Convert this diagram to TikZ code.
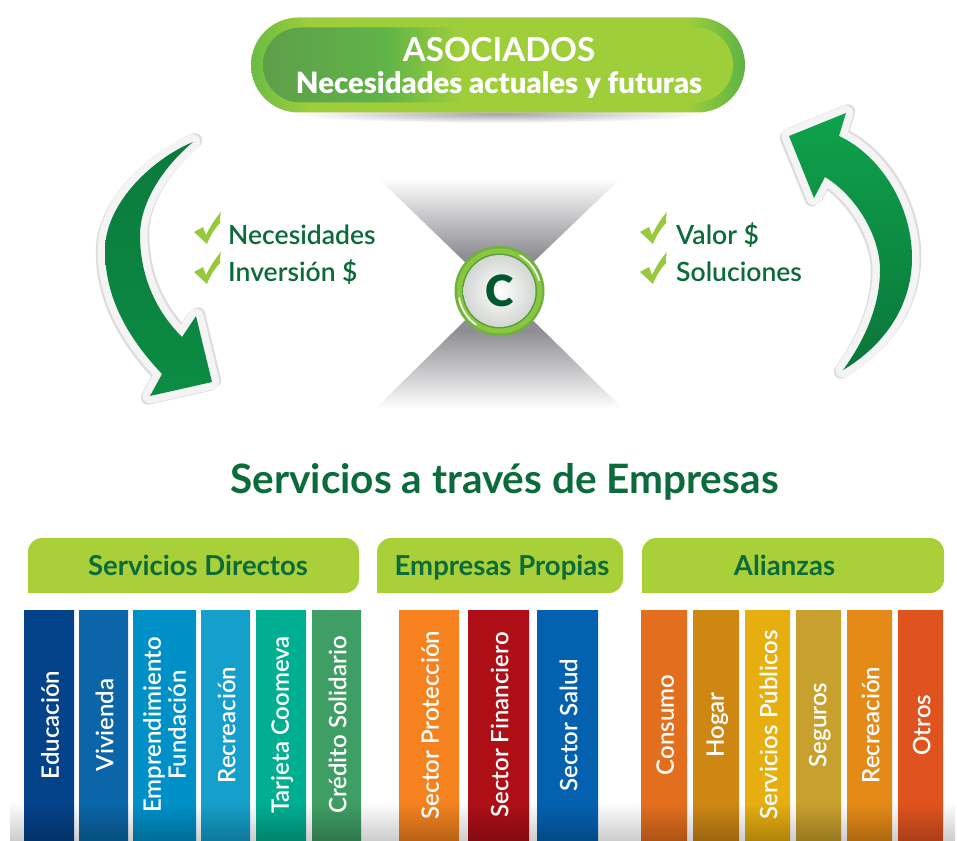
\documentclass[tikz,border=0pt]{standalone}
\usepackage{fontspec}
\usepackage{graphicx}
\setmainfont{Lato}
\newfontfamily\barfont{Lato Semibold}
\newfontfamily\headfont{Lato Bold}
\newfontfamily\heavyfont{Lato Black}
\usetikzlibrary{shapes.misc}
\definecolor{lime}{HTML}{A9D039}
\definecolor{pilllime}{HTML}{9FCE3B}
\definecolor{deepgreen}{HTML}{0B6B3A}
\definecolor{rimwhite}{HTML}{F4F4F4}
\definecolor{rimgrey}{HTML}{DCDCDC}
\definecolor{pillL}{HTML}{6CBB45}
\definecolor{pillR}{HTML}{5DB345}
\definecolor{innerA}{HTML}{5E9F4A}
\definecolor{innerB}{HTML}{5FB447}
\definecolor{arrowDark}{HTML}{0B7A3C}
\definecolor{arrowMid}{HTML}{0FA24B}
\definecolor{arrowLow}{HTML}{0B8C44}
\definecolor{arrowEnd}{HTML}{0A763B}
\definecolor{hourgrey}{HTML}{8E8E94}
\definecolor{ringA}{HTML}{6DB33F}
\definecolor{ringB}{HTML}{8CC63F}
\definecolor{ringC}{HTML}{4FA23A}
\definecolor{ballgrey}{HTML}{D3D6D3}
\definecolor{hubtext}{HTML}{00582F}
\definecolor{floorgrey}{HTML}{CDCDCD}
\definecolor{chkgreen}{HTML}{97C93D}
\definecolor{cEdu}{HTML}{04428A}
\definecolor{cViv}{HTML}{0A66A8}
\definecolor{cEmp}{HTML}{0090C8}
\definecolor{cRec}{HTML}{159FCB}
\definecolor{cTar}{HTML}{00AE92}
\definecolor{cCre}{HTML}{3F9E63}
\definecolor{cPro}{HTML}{F5821F}
\definecolor{cFin}{HTML}{AE0F16}
\definecolor{cSal}{HTML}{0461B0}
\definecolor{cCon}{HTML}{E36F1E}
\definecolor{cHog}{HTML}{CF8714}
\definecolor{cPub}{HTML}{E6AE0F}
\definecolor{cSeg}{HTML}{C8A02D}
\definecolor{cRed}{HTML}{E68A17}
\definecolor{cOtr}{HTML}{E0531F}
\colorlet{barbase}{cEdu}
\pgfdeclarehorizontalshading{outerpill}{100bp}{color(0bp)=(pillL);color(25bp)=(pillL);color(31bp)=(pilllime);color(69bp)=(pilllime);color(75bp)=(pillR);color(100bp)=(pillR)}
\pgfdeclarehorizontalshading{innerpill}{100bp}{color(0bp)=(innerA);color(25bp)=(innerA);color(38bp)=(innerB);color(46bp)=(pilllime);color(100bp)=(pilllime)}
\pgfdeclareverticalshading{hourtop}{100bp}{color(0bp)=(hourgrey);color(42bp)=(hourgrey);color(75bp)=(white);color(100bp)=(white)}
\pgfdeclareverticalshading{hourlow}{100bp}{color(0bp)=(white);color(25bp)=(white);color(57bp)=(hourgrey);color(100bp)=(hourgrey)}
\pgfdeclareverticalshading[barbase]{barshade}{100bp}{color(0bp)=(barbase!76!black);color(25bp)=(barbase!76!black);color(33bp)=(barbase);color(100bp)=(barbase)}
\newcommand{\leftarc}{(193,142) .. controls (150,160) and (105,205) .. (105,250) .. controls (105,300) and (130,340) .. (162,374) -- (150,396) -- (212,382) -- (196,316) -- (182,337) .. controls (155,310) and (140,275) .. (140,235) .. controls (140,205) and (160,170) .. (193,142) -- cycle}
\newcommand{\rightarc}{(789,136) -- (846,113) -- (839,136) .. controls (880,155) and (912,205) .. (912,258) .. controls (912,305) and (885,345) .. (843,370) .. controls (865,340) and (880,305) .. (880,270) .. controls (880,235) and (855,195) .. (825,177) -- (814,198) -- cycle}
\newcommand{\barlabel}[1]{\rotatebox{90}{\rule{0pt}{20pt}#1}}
\tikzset{
  x=1pt,y=-1pt,
  rimshadow/.style={draw=rimgrey,line width=14.5pt,line join=round},
  rim/.style={draw=rimwhite,line width=15pt,line join=round},
  hdrbox/.style={fill=lime},
  hdrtext/.style={text=deepgreen,font=\headfont\fontsize{27.5}{29}\selectfont,inner sep=0pt,anchor=base},
  bodytext/.style={text=deepgreen,font=\barfont\fontsize{26.5}{30}\selectfont,inner sep=0pt,anchor=base west},
  colbar/.style n args={2}{rectangle,inner sep=0pt,minimum height=230pt,minimum width=#1,
    /utils/exec={\colorlet{barbase}{#2}},shading=barshade,text=white,
    font=\barfont\fontsize{24}{26}\selectfont},
  chk/.pic={\fill[chkgreen] (194,232) -- (203,227) -- (206,235) .. controls (210,227) and (214,220) .. (221,212) .. controls (219,222) and (220,224) .. (221,222) .. controls (215,228) and (210,236) .. (207,244) -- cycle;},
}
\begin{document}
\begin{tikzpicture}
\useasboundingbox (0,0) rectangle (957,840);
\fill[white] (0,0) rectangle (957,840);
% pill shadow
\shade[inner color=gray!70,outer color=white] (498,114) ellipse (205 and 9);
% pill
\node (pillout) [rounded rectangle,inner sep=0pt,minimum width=494pt,minimum height=95pt,shading=outerpill] at (498,65) {};
\node (pillin) [rounded rectangle,inner sep=0pt,minimum width=470pt,minimum height=75pt,shading=innerpill] at (498,65) {};
\node (pilltext) [inner sep=0pt,text=white,align=center,font=\fontsize{28}{32}\selectfont] at (499,68)
  {{\headfont\fontsize{33}{32}\selectfont ASOCIADOS}\\{\heavyfont\fontsize{29.3}{32}\selectfont Necesidades actuales y futuras}};
% arrows
\draw[rimshadow,shift={(-2,1.5)}] \leftarc;
\draw[rimshadow,shift={(2,-1.5)}] \leftarc;
\draw[rim] \leftarc;
\shade[top color=arrowDark,middle color=arrowMid,bottom color=arrowLow] \leftarc;
\draw[rimshadow,shift={(-2,1.5)}] \rightarc;
\draw[rimshadow,shift={(2,-1.5)}] \rightarc;
\draw[rim] \rightarc;
\shade[top color=arrowMid,middle color=arrowMid,bottom color=arrowEnd] \rightarc;
% hourglass
\path[shading=hourtop] (378,178) -- (621,178) -- (499,295) -- cycle;
\path[shading=hourlow] (499,287) -- (623,409) -- (375,409) -- cycle;
% hub
\fill[ringA] (499.5,291) circle (45);
\fill[ringB] (499.5,291) circle (42.5);
\fill[ringC] (499.5,291) circle (37.5);
\node (hub) [circle,inner sep=0pt,minimum size=72pt,inner color=white,outer color=ballgrey,text=hubtext,font=\heavyfont\fontsize{43}{43}\selectfont] at (499.5,291) {C};
\draw[white,line width=1.6pt,line cap=round] (499.5,291) ++(125:41) arc[start angle=125,end angle=170,radius=41];
\draw[white,line width=1.6pt,line cap=round] (499.5,291) ++(-15:41) arc[start angle=-15,end angle=-60,radius=41];
% checks and lists
\pic (chkA) at (0,0) {chk};
\pic (chkB) at (0,40) {chk};
\pic (chkC) at (446,0) {chk};
\pic (chkD) at (446,40) {chk};
\node (tNec) [bodytext] at (228,244) {Necesidades};
\node (tInv) [bodytext] at (228,281) {Inversión \$};
\node (tVal) [bodytext] at (676,244) {Valor \$};
\node (tSol) [bodytext] at (676,281) {Soluciones};
% title
\node (title) [text=deepgreen,font=\headfont\fontsize{40.5}{42}\selectfont,inner sep=0pt,anchor=base] at (504.5,493) {Servicios a través de Empresas};
% floor band
\shade[top color=white,bottom color=floorgrey] (10,802) rectangle (955,840);
% headers
\fill[hdrbox] (28,593) {[rounded corners=14pt] -- (28,538) -- (359,538) -- (359,593)} -- cycle;
\fill[hdrbox] (377,593) {[rounded corners=14pt] -- (377,538) -- (623,538) -- (623,593)} -- cycle;
\fill[hdrbox] (642,593) {[rounded corners=14pt] -- (642,538) -- (944,538) -- (944,593)} -- cycle;
\node (hA) [hdrtext] at (198,575) {Servicios Directos};
\node (hB) [hdrtext] at (502,575) {Empresas Propias};
\node (hC) [hdrtext] at (784.5,575) {Alianzas};
% bars
\node (b1) [colbar={50pt}{cEdu}] at (49,725) {\barlabel{Educación}};
\node (b2) [colbar={49pt}{cViv}] at (103.5,725) {\barlabel{Vivienda}};
\node (b3) [colbar={63pt}{cEmp}] at (164.5,725) {\rotatebox{90}{\parbox{200pt}{\centering\baselineskip=25pt Emprendimiento\\Fundación}}};
\node (b4) [colbar={49pt}{cRec}] at (225.5,725) {\barlabel{Recreación}};
\node (b5) [colbar={50pt}{cTar}] at (281,725) {\barlabel{Tarjeta Coomeva}};
\node (b6) [colbar={49pt}{cCre}] at (336.5,725) {\barlabel{Crédito Solidario}};
\node (b7) [colbar={60pt}{cPro}] at (429,725) {\barlabel{Sector Protección}};
\node (b8) [colbar={61pt}{cFin}] at (498.5,725) {\barlabel{Sector Financiero}};
\node (b9) [colbar={61pt}{cSal}] at (567.5,725) {\barlabel{Sector Salud}};
\node (b10) [colbar={46pt}{cCon}] at (664,725) {\barlabel{Consumo}};
\node (b11) [colbar={46pt}{cHog}] at (716,725) {\barlabel{Hogar}};
\node (b12) [colbar={45pt}{cPub}] at (767.5,725) {\barlabel{Servicios Públicos}};
\node (b13) [colbar={45pt}{cSeg}] at (818.5,725) {\barlabel{Seguros}};
\node (b14) [colbar={45pt}{cRed}] at (869.5,725) {\barlabel{Recreación}};
\node (b15) [colbar={45pt}{cOtr}] at (920.5,725) {\barlabel{Otros}};
\end{tikzpicture}
\end{document}
